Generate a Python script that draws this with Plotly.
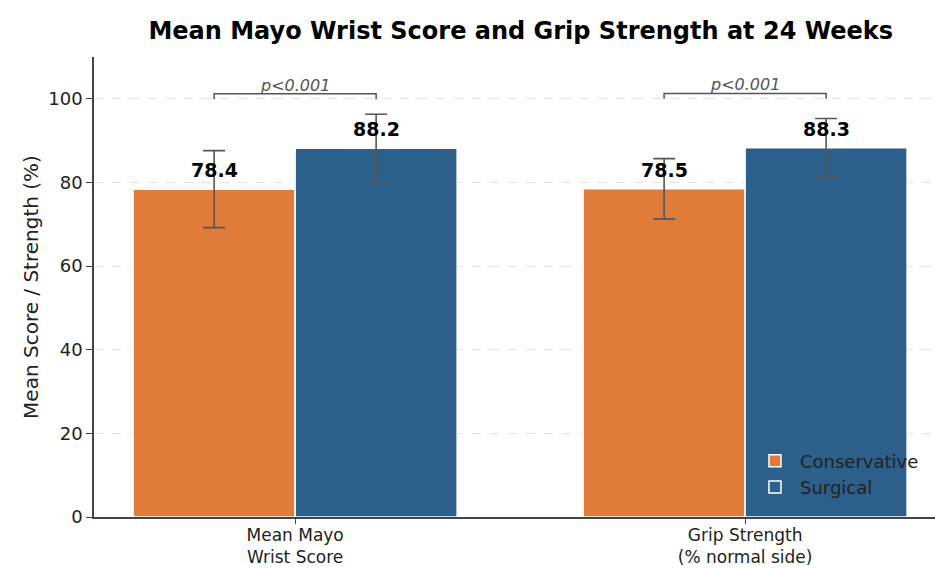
import plotly.graph_objects as go

categories = ["Mean Mayo<br>Wrist Score", "Grip Strength<br>(% normal side)"]
conservative = [78.4, 78.5]
surgical = [88.2, 88.3]
conservative_sd = [9.2, 7.2]
surgical_sd = [8.1, 7.0]
p_labels = ["p<0.001", "p<0.001"]
series_names = ["Conservative", "Surgical"]
colors = ["#E07B39", "#2C5F8A"]

x_idx = [0, 1]
bw = 0.36

fig = go.Figure()
for name, vals, sd, col, off in [
    (series_names[0], conservative, conservative_sd, colors[0], -bw / 2),
    (series_names[1], surgical, surgical_sd, colors[1], bw / 2),
]:
    fig.add_trace(go.Bar(
        x=[i + off for i in x_idx], y=vals, width=bw, name=name,
        marker=dict(color=col, line=dict(color="white", width=1.5)),
        error_y=dict(type="data", array=sd, color="#555555", thickness=1.6, width=11),
    ))
    for i, v in zip(x_idx, vals):
        fig.add_annotation(x=i + off, y=v, text=f"<b>{v}</b>", showarrow=False,
                           yanchor="bottom", yshift=6,
                           font=dict(size=19, color="black", family="DejaVu Sans"))

for i, p in zip(x_idx, p_labels):
    x0, x1 = i - bw / 2, i + bw / 2
    top = max(conservative[i], surgical[i]) + 13
    fig.add_trace(go.Scatter(x=[x0, x0, x1, x1], y=[top - 1.3, top, top, top - 1.3],
                             mode="lines", line=dict(color="#555555", width=1.5),
                             showlegend=False, hoverinfo="skip"))
    fig.add_annotation(x=i, y=top, text=f"<i>{p}</i>", showarrow=False,
                       yanchor="bottom", yshift=-3,
                       font=dict(size=16, color="#555555", family="DejaVu Sans"))

fig.update_layout(
    width=935, height=568,
    margin=dict(l=94, r=0, t=57, b=51),
    paper_bgcolor="white", plot_bgcolor="white",
    title=dict(text="<b>Mean Mayo Wrist Score and Grip Strength at 24 Weeks</b>",
               x=0.557, xanchor="center", y=0.947, yanchor="middle",
               font=dict(size=24, color="black", family="DejaVu Sans")),
    font=dict(family="DejaVu Sans", color="#222222"),
    barmode="overlay",
    legend=dict(x=0.78, y=0.025, xanchor="left", yanchor="bottom",
                bgcolor="rgba(0,0,0,0)", font=dict(size=18, color="#222222"),
                itemwidth=40, tracegroupgap=0),
    showlegend=True,
)
fig.update_xaxes(range=[-0.447, 1.422], tickmode="array", tickvals=x_idx, ticktext=categories,
                 showline=True, linecolor="#444444", linewidth=1.5, ticks="outside",
                 ticklen=5, tickcolor="#444444", showgrid=False, zeroline=False,
                 automargin=False, ticklabelstandoff=-3,
                 tickfont=dict(size=17, color="#222222"))
fig.update_yaxes(range=[0, 110], tickvals=[0, 20, 40, 60, 80, 100],
                 showline=True, linecolor="#444444", linewidth=1.5, ticks="outside",
                 ticklen=6, tickcolor="#444444", showgrid=True, gridcolor="#e3e3e3",
                 griddash="dash", gridwidth=1, zeroline=False, automargin=False,
                 tickfont=dict(size=18, color="#222222"),
                 title=dict(text="Mean Score / Strength (%)", font=dict(size=20, color="#222222"), standoff=4))

fig.write_html("out.html")
